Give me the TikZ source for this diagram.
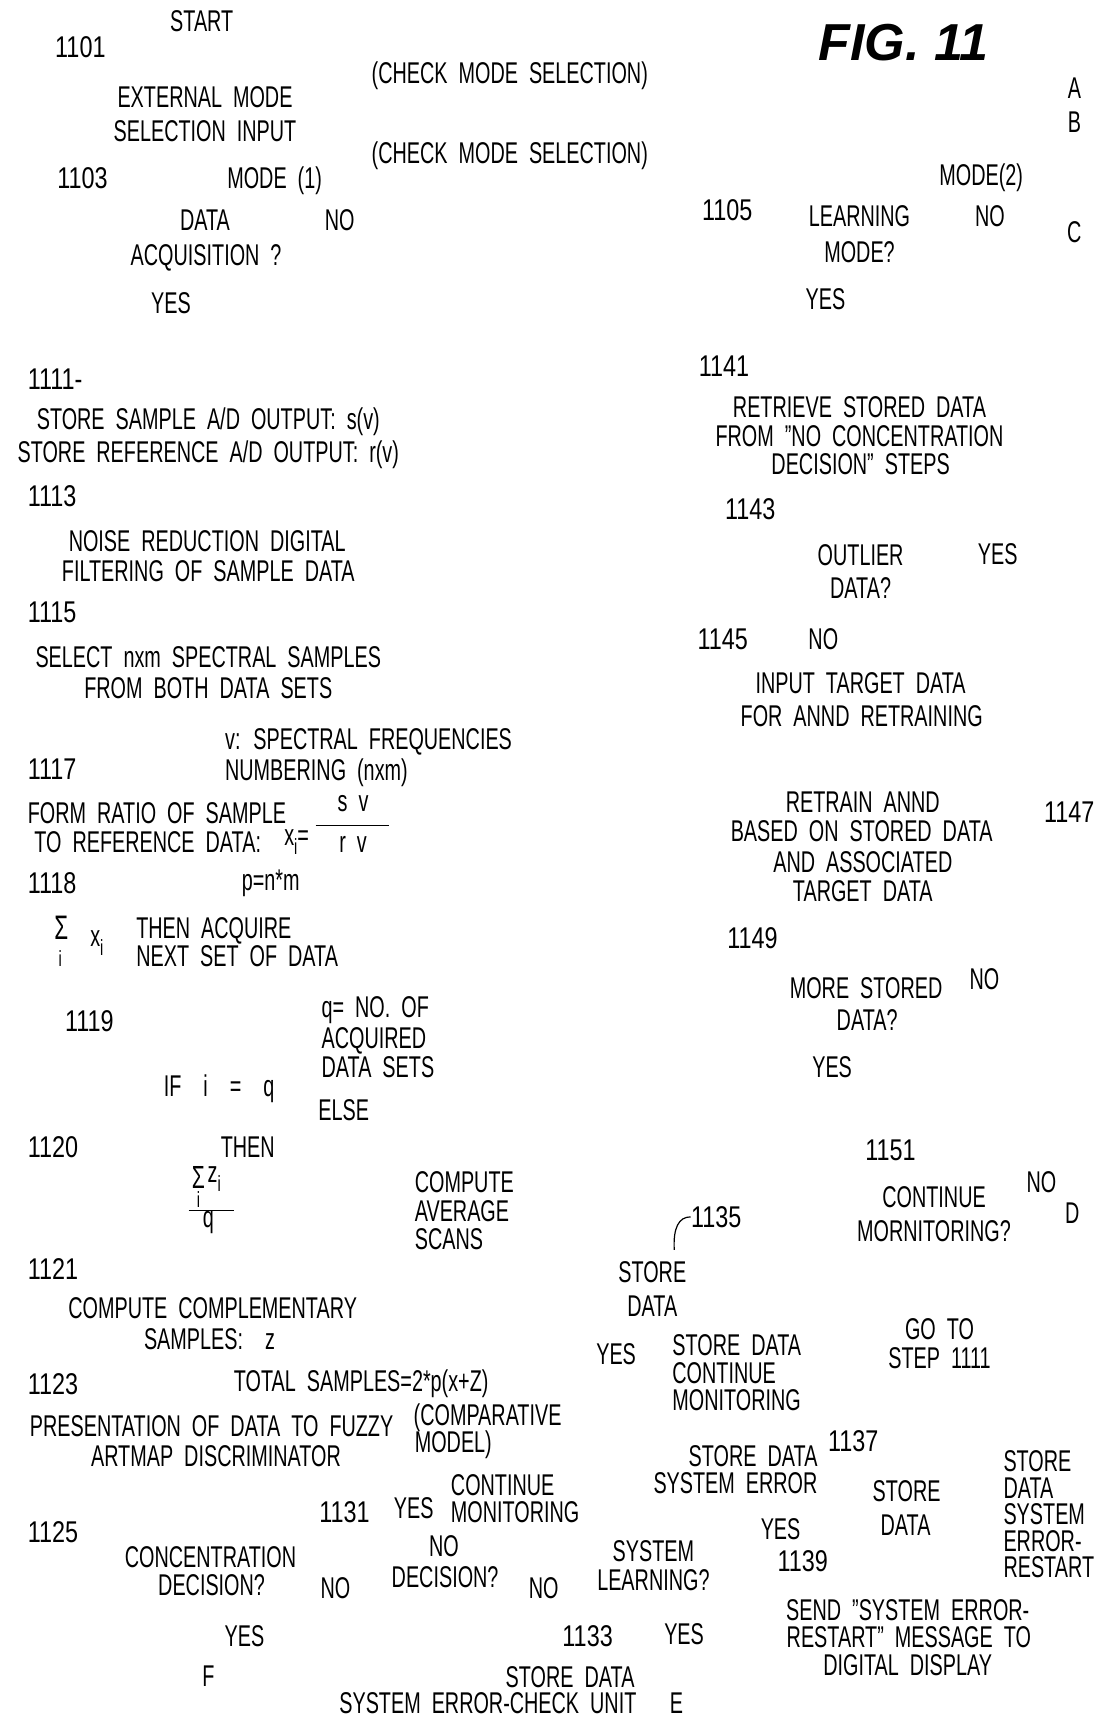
\documentclass[tikz,border=0pt]{standalone}
\usepackage{fontspec}
\newfontfamily\cadfont[FakeStretch=0.66, WordSpace=2]{Liberation Sans}
\newfontfamily\numfont[FakeStretch=0.78]{Liberation Sans}
\newfontfamily\figfont{Liberation Sans}
\newcommand\cad{\cadfont\fontsize{15}{18}\selectfont}
\newcommand\numf{\numfont\fontsize{15}{18}\selectfont}
\newcommand\cadsm{\cadfont\fontsize{11}{13}\selectfont}
\newcommand\sbi[1]{\raisebox{-0.3em}{\cadsm #1}}
\tikzset{
  t/.style={font=\cad, inner sep=0pt, anchor=base, text depth=0pt, text height=11pt},
  tl/.style={t, anchor=base west},
  tr/.style={t, anchor=base east},
  ts/.style={t, font=\cadsm, text height=8pt},
  num/.style={inner sep=0pt, anchor=base west, font=\numf, text depth=0pt, text height=11pt},
  fig/.style={inner sep=0pt, anchor=base, font={\figfont\fontsize{26}{30}\selectfont\bfseries\itshape}},
  bar/.style={line width=0.6pt},
}
\begin{document}
\begin{tikzpicture}[x=0.5481pt, y=-0.5481pt]
\useasboundingbox[fill=white] (0,0) rectangle (998,1568);
% ---- top left
\node[t] (start) at (184,29) {START};
\node[num] (n1101) at (50,52) {1101};
\node[t] (chk1) at (465,76) {(CHECK MODE SELECTION)};
\node[t] (ext1) at (187,98) {EXTERNAL MODE};
\node[t] (ext2) at (187,129) {SELECTION INPUT};
\node[t] (chk2) at (465,149) {(CHECK MODE SELECTION)};
\node[num] (n1103) at (52,172) {1103};
\node[tl] (mode1) at (207,172) {MODE (1)};
\node[t] (daq1) at (187,210) {DATA};
\node[tl] (daqno) at (296,210) {NO};
\node[t] (daq2) at (188,242) {ACQUISITION ?};
\node[t] (daqyes) at (156,286) {YES};
% ---- top right
\node[fig] (fig) at (824,55) {FIG. 11};
\node[t] (lA) at (980,90) {A};
\node[t] (lB) at (980,121) {B};
\node[t] (mode2) at (895,169) {MODE(2)};
\node[num] (n1105) at (640,201) {1105};
\node[t] (lrn1) at (784,207) {LEARNING};
\node[t] (lrnno) at (903,207) {NO};
\node[t] (lC) at (980,221) {C};
\node[t] (lrn2) at (784,239) {MODE?};
\node[t] (lrnyes) at (753,282) {YES};
% ---- left column
\node[num] (n1111) at (25,355) {1111-};
\node[t] (s1) at (190,392) {STORE SAMPLE A/D OUTPUT: s(v)};
\node[t] (s2) at (190,422) {STORE REFERENCE A/D OUTPUT: r(v)};
\node[num] (n1113) at (25,462) {1113};
\node[t] (nr1) at (189,503) {NOISE REDUCTION DIGITAL};
\node[t] (nr2) at (190,530) {FILTERING OF SAMPLE DATA};
\node[num] (n1115) at (25,568) {1115};
\node[t] (sel1) at (190,609) {SELECT nxm SPECTRAL SAMPLES};
\node[t] (sel2) at (190,637) {FROM BOTH DATA SETS};
\node[tl] (vsp) at (205,684) {v: SPECTRAL FREQUENCIES};
\node[num] (n1117) at (25,711) {1117};
\node[tl] (numb) at (205,712) {NUMBERING (nxm)};
\node[tl] (fr1) at (25,751) {FORM RATIO OF SAMPLE};
\node[tl] (fr2) at (31,778) {TO REFERENCE DATA:};
\node[tl] (xi) at (259,771) {x\sbi{i}=};
\node[t] (sv) at (322,740) {s v};
\node[t] (rv) at (322,778) {r v};
\draw[bar] (288,753) -- (355,753);
\node[num] (n1118) at (25,815) {1118};
\node[t] (pnm) at (247,812) {p=n*m};
\node[t, font=\cadfont\fontsize{17}{18}\selectfont] (sig1) at (56,857) {Σ};
\node[ts] (sig1i) at (55,882) {i};
\node[tl] (sig1x) at (82,863) {x\sbi{i}};
\node[tl] (acq1) at (124,856) {THEN ACQUIRE};
\node[tl] (acq2) at (124,882) {NEXT SET OF DATA};
\node[num] (n1119) at (59,941) {1119};
\node[tl] (q1) at (293,928) {q= NO. OF};
\node[tl] (q2) at (293,956) {ACQUIRED};
\node[tl] (q3) at (293,983) {DATA SETS};
\node[tl] (ifq) at (149,1000) {IF \ i \ = \ q};
\node[tl] (else) at (290,1022) {ELSE};
\node[num] (n1120) at (25,1056) {1120};
\node[t] (then) at (226,1056) {THEN};
\node[t, font=\cadfont\fontsize{16}{18}\selectfont] (sig2) at (181,1084) {Σ};
\node[tl] (sig2z) at (189,1079) {z\sbi{i}};
\node[ts] (sig2i) at (181,1101) {i};
\draw[bar] (172,1104) -- (213,1104);
\node[t] (sig2q) at (190,1120) {q};
\node[tl] (cas1) at (378,1088) {COMPUTE};
\node[tl] (cas2) at (378,1114) {AVERAGE};
\node[tl] (cas3) at (378,1140) {SCANS};
\node[num] (n1121) at (25,1167) {1121};
\node[t] (cc1) at (194,1203) {COMPUTE COMPLEMENTARY};
\node[tl] (cc2) at (131,1231) {SAMPLES: \ z};
\node[num] (n1123) at (25,1272) {1123};
\node[tl] (tot) at (213,1269) {TOTAL SAMPLES=2*p(x+Z)};
\node[t] (pres1) at (193,1310) {PRESENTATION OF DATA TO FUZZY};
\node[t] (pres2) at (197,1338) {ARTMAP DISCRIMINATOR};
\node[tl] (cmp1) at (377,1300) {(COMPARATIVE};
\node[tl] (cmp2) at (378,1325) {MODEL)};
\node[num] (n1131) at (291,1389) {1131};
\node[tl] (cmyes) at (359,1385) {YES};
\node[tl] (cm1) at (411,1364) {CONTINUE};
\node[tl] (cm2) at (411,1389) {MONITORING};
\node[num] (n1125) at (25,1407) {1125};
\node[t] (cd1) at (192,1430) {CONCENTRATION};
\node[t] (cd2) at (193,1455) {DECISION?};
\node[t] (cdno) at (306,1458) {NO};
\node[t] (nd1) at (405,1420) {NO};
\node[t] (nd2) at (406,1448) {DECISION?};
\node[t] (ndno) at (496,1458) {NO};
\node[t] (cdyes) at (223,1502) {YES};
\node[t] (lF) at (190,1538) {F};
\node[num, anchor=base] (n1133) at (536,1502) {1133};
\node[t] (slyes) at (624,1500) {YES};
\node[t] (sec1) at (520,1539) {STORE DATA};
\node[t] (sec2) at (445,1563) {SYSTEM ERROR-CHECK UNIT};
\node[t] (lE) at (617,1563) {E};
% ---- right column
\node[num] (n1141) at (637,343) {1141};
\node[t] (rt1) at (784,381) {RETRIEVE STORED DATA};
\node[t] (rt2) at (784,407) {FROM ”NO CONCENTRATION};
\node[t] (rt3) at (785,433) {DECISION” STEPS};
\node[num] (n1143) at (661,474) {1143};
\node[t] (od1) at (785,516) {OUTLIER};
\node[t] (odyes) at (910,515) {YES};
\node[t] (od2) at (785,546) {DATA?};
\node[num] (n1145) at (636,592) {1145};
\node[t] (odno) at (751,592) {NO};
\node[t] (it1) at (785,633) {INPUT TARGET DATA};
\node[t] (it2) at (786,663) {FOR ANND RETRAINING};
\node[t] (ra1) at (787,741) {RETRAIN ANND};
\node[t] (ra2) at (786,768) {BASED ON STORED DATA};
\node[t] (ra3) at (787,796) {AND ASSOCIATED};
\node[t] (ra4) at (787,822) {TARGET DATA};
\node[num] (n1147) at (952,750) {1147};
\node[num] (n1149) at (663,865) {1149};
\node[t] (ms1) at (790,911) {MORE STORED};
\node[t] (msno) at (898,903) {NO};
\node[t] (ms2) at (791,940) {DATA?};
\node[t] (msyes) at (759,983) {YES};
\node[num] (n1151) at (789,1059) {1151};
\node[t] (cnt1) at (852,1101) {CONTINUE};
\node[t] (cntno) at (950,1088) {NO};
\node[t] (cnt2) at (852,1132) {MORNITORING?};
\node[t] (lD) at (978,1116) {D};
\node[num] (n1135) at (630,1120) {1135};
\draw[bar] (n1135.west) .. controls (619,1110) and (614,1120) .. (615,1140);
\node[t] (sd1) at (595,1170) {STORE};
\node[t] (sd2) at (595,1201) {DATA};
\node[t] (sdyes) at (562,1245) {YES};
\node[tl] (sdc1) at (613,1236) {STORE DATA};
\node[tl] (sdc2) at (613,1262) {CONTINUE};
\node[tl] (sdc3) at (613,1287) {MONITORING};
\node[t] (go1) at (857,1222) {GO TO};
\node[t] (go2) at (857,1248) {STEP 1111};
\node[tr] (sse1) at (746,1338) {STORE DATA};
\node[tr] (sse2) at (746,1362) {SYSTEM ERROR};
\node[num] (n1137) at (755,1324) {1137};
\node[t] (sd3) at (827,1370) {STORE};
\node[t] (sd4) at (826,1401) {DATA};
\node[tl] (ser1) at (915,1342) {STORE};
\node[tl] (ser2) at (915,1367) {DATA};
\node[tl] (ser3) at (915,1391) {SYSTEM};
\node[tl] (ser4) at (915,1415) {ERROR-};
\node[tl] (ser5) at (915,1439) {RESTART};
\node[t] (syes) at (712,1404) {YES};
\node[num] (n1139) at (709,1433) {1139};
\node[t] (sl1) at (596,1424) {SYSTEM};
\node[t] (sl2) at (596,1451) {LEARNING?};
\node[t] (snd1) at (828,1478) {SEND ”SYSTEM ERROR-};
\node[t] (snd2) at (829,1503) {RESTART” MESSAGE TO};
\node[t] (snd3) at (828,1528) {DIGITAL DISPLAY};
\end{tikzpicture}
\end{document}
